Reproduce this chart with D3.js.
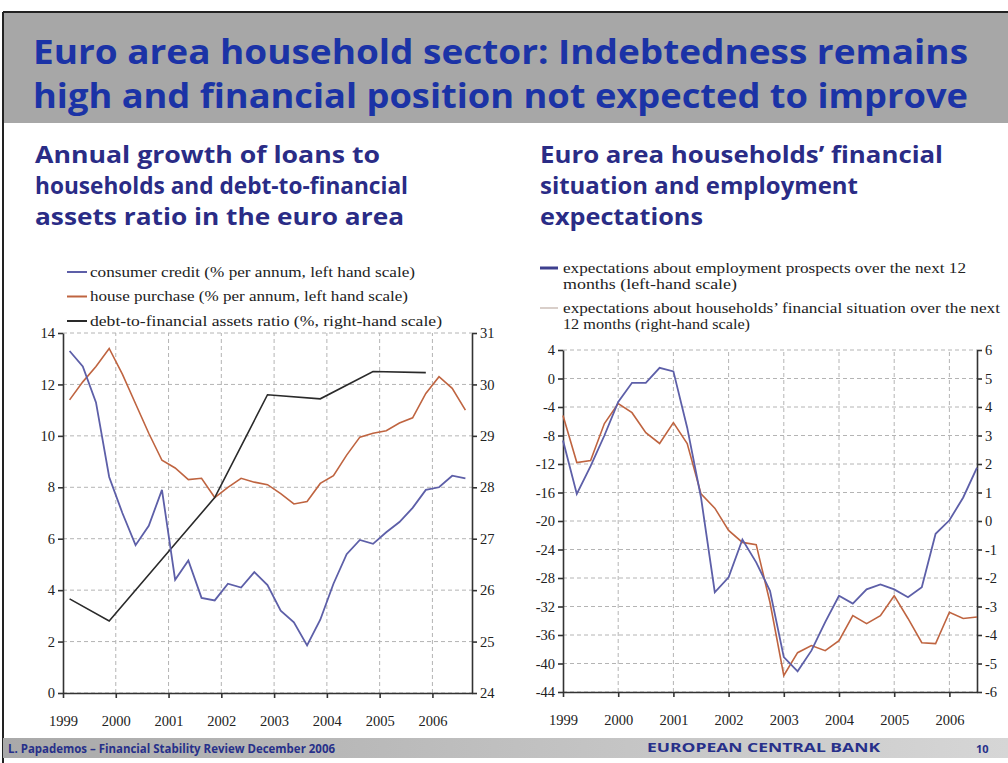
<!DOCTYPE html>
<html><head><meta charset="utf-8">
<script src="https://cdn.jsdelivr.net/npm/d3@7"></script>
<style>
html,body{margin:0;padding:0;background:#fff;}
svg{display:block;}
</style></head>
<body>
<svg id="c" width="1008" height="763"></svg>
<script>
// ---------- DATA ----------
const titleLines = ["Euro area household sector: Indebtedness remains",
                    "high and financial position not expected to improve"];
const leftSubtitle = ["Annual growth of loans to", "households and debt-to-financial", "assets ratio in the euro area"];
const rightSubtitle = ["Euro area households\u2019 financial", "situation and employment", "expectations"];
const yearLabels = ["1999","2000","2001","2002","2003","2004","2005","2006"];

// Left chart: quarterly, 1999Q1 .. 2006Q3
const loansStartYear = 1999;
const consumerCredit = [13.3,12.7,11.3,8.4, 7.0,5.75,6.5,7.9, 4.4,5.15,3.7,3.6, 4.25,4.1,4.7,4.2,
                        3.2,2.75,1.85,2.85, 4.25,5.4,5.95,5.8, 6.25,6.65,7.2,7.9, 8.0,8.45,8.35];
const housePurchase = [11.4,12.1,12.7,13.4, 12.4,11.25,10.1,9.05, 8.75,8.3,8.35,7.6, 8.0,8.35,8.2,8.1,
                       7.75,7.35,7.45,8.15, 8.45,9.25,9.95,10.1, 10.2,10.5,10.7,11.65, 12.3,11.85,11.0];
const debtDates = [1999.125,1999.875,2000.875,2001.875,2002.875,2003.875,2004.875,2005.875];
const debtRatio = [25.83,25.4,26.6,27.8,29.8,29.72,30.25,30.23];
const leftTicksL = [0,2,4,6,8,10,12,14];
const leftTicksR = [24,25,26,27,28,29,30,31];
const leftLegend = ["consumer credit (% per annum, left hand scale)",
                    "house purchase (% per annum, left hand scale)",
                    "debt-to-financial assets ratio (%, right-hand scale)"];

// Right chart: quarterly, 1999Q1 .. 2006Q3
const expStartYear = 1999;
const employment = [-8.7,-16.2,-12.3,-8.0, -3.3,-0.6,-0.6,1.5, 1.0,-6.9,-16.7,-30.0, -27.9,-22.6,-25.8,-29.8,
                    -39.1,-41.1,-38.2,-34.2, -30.5,-31.6,-29.6,-28.9, -29.6,-30.7,-29.3,-21.8, -19.9,-16.7,-12.5];
const financial = [3.7,2.05,2.12,3.42, 4.12,3.8,3.1,2.72, 3.45,2.72,0.95,0.45, -0.33,-0.75,-0.83,-2.86,
                   -5.42,-4.62,-4.37,-4.55, -4.2,-3.32,-3.6,-3.32, -2.62,-3.42,-4.27,-4.3, -3.2,-3.42,-3.37];
const rightTicksL = [4,0,-4,-8,-12,-16,-20,-24,-28,-32,-36,-40,-44];
const rightTicksR = [6,5,4,3,2,1,0,-1,-2,-3,-4,-5,-6];
const rightLegend = [["expectations about employment prospects over the next 12","months (left-hand scale)"],
                     ["expectations about households\u2019 financial situation over the next","12 months (right-hand scale)"]];
const footerLeft = "L. Papademos \u2013 Financial Stability Review December 2006";
const footerMid = "EUROPEAN CENTRAL BANK";
const footerPage = "10";

// ---------- STYLE ----------
const BLUE = "#5d5fa8", RED = "#bf6440", BLACK = "#2a2a2a";
const GRID = "#b4b4b4";
const SERIF = "'Liberation Serif','DejaVu Serif',serif";
const SANS = "'Open Sans','Noto Sans',sans-serif";

const svg = d3.select("#c");

// frame & header bar
svg.append("rect").attr("x",3).attr("y",12).attr("width",1005).attr("height",111).attr("fill","#a7a7a7");
svg.append("line").attr("x1",3).attr("x2",1008).attr("y1",12).attr("y2",12).attr("stroke","#222").attr("stroke-width",2);
svg.append("line").attr("x1",3).attr("x2",3).attr("y1",12).attr("y2",763).attr("stroke","#222").attr("stroke-width",2);

const titleBase = [64, 108];
titleLines.forEach((t,i)=>{
  svg.append("text").attr("x",33).attr("y",titleBase[i]).text(t)
    .attr("font-family",SANS).attr("font-weight","bold").attr("font-size",34)
    .attr("fill","#1b33a6").attr("textLength",935).attr("lengthAdjust","spacingAndGlyphs");
});

function subtitle(lines, x, widths){
  lines.forEach((t,i)=>{
    svg.append("text").attr("x",x).attr("y",163+i*31).text(t)
      .attr("font-family",SANS).attr("font-weight","bold").attr("font-size",23)
      .attr("fill","#2a2c86").attr("textLength",widths[i]).attr("lengthAdjust","spacingAndGlyphs");
  });
}
subtitle(leftSubtitle, 35, [345,373,369]);
subtitle(rightSubtitle, 540, [403,318,163]);

// footer
const fg = svg.append("defs").append("linearGradient").attr("id","fg");
fg.append("stop").attr("offset","0%").attr("stop-color","#a9a9a9");
fg.append("stop").attr("offset","100%").attr("stop-color","#d6d6d6");
svg.append("rect").attr("x",3).attr("y",738).attr("width",1005).attr("height",20).attr("fill","url(#fg)");
svg.append("text").attr("x",8).attr("y",753).text(footerLeft)
  .attr("font-family",SANS).attr("font-weight","bold").attr("font-size",13).attr("fill","#27308a")
  .attr("textLength",327).attr("lengthAdjust","spacingAndGlyphs");
svg.append("text").attr("x",647).attr("y",752).text(footerMid)
  .attr("font-family",SANS).attr("font-weight","bold").attr("font-size",11.5).attr("fill","#27308a")
  .attr("textLength",233).attr("lengthAdjust","spacingAndGlyphs");
svg.append("text").attr("x",976).attr("y",753).text(footerPage)
  .attr("font-family",SANS).attr("font-weight","bold").attr("font-size",11).attr("fill","#27308a");

// ---------- chart helper ----------
function drawFrame(g, x, yL, yR, ticksL, ticksR, xYears){
  const [x0,x1] = x.range(); const [yb,yt] = yL.range();
  // grid
  ticksL.forEach(v=>{
    g.append("line").attr("x1",x0).attr("x2",x1).attr("y1",yL(v)).attr("y2",yL(v))
      .attr("stroke",GRID).attr("stroke-width",1).attr("stroke-dasharray","4,3");
  });
  xYears.forEach(yr=>{
    if (yr===xYears[0]) return;
    g.append("line").attr("x1",x(yr)).attr("x2",x(yr)).attr("y1",yb).attr("y2",yt)
      .attr("stroke",GRID).attr("stroke-width",1).attr("stroke-dasharray","4,3");
  });
  // axes
  const fmt = d=>String(d);
  const axL = d3.axisLeft(yL).tickValues(ticksL).tickSize(5).tickSizeOuter(0).tickFormat(fmt);
  const axR = d3.axisRight(yR).tickValues(ticksR).tickSize(5).tickSizeOuter(0).tickFormat(fmt);
  const axB = d3.axisBottom(x).tickValues(xYears).tickSize(5).tickSizeOuter(0).tickFormat(fmt);
  const gl = g.append("g").attr("transform",`translate(${x0},0)`).call(axL);
  const gr = g.append("g").attr("transform",`translate(${x1},0)`).call(axR);
  const gb = g.append("g").attr("transform",`translate(0,${yb})`).call(axB);
  [gl,gr,gb].forEach(a=>{
    a.selectAll("path,line").attr("stroke","#333").attr("stroke-width",1.6);
    a.selectAll("text").attr("font-family",SERIF).attr("font-size",14.5).attr("fill","#222");
  });
  gb.selectAll("text").attr("dy","1.7em");
  return {gl,gr,gb};
}

// ---------- LEFT CHART ----------
const L = svg.append("g");
const xL = d3.scaleLinear().domain([1999, 2006.75]).range([63, 472]);
const yLL = d3.scaleLinear().domain([0,14]).range([693, 333]);
const yLR = d3.scaleLinear().domain([24,31]).range([693, 333]);
const years = yearLabels.map(Number);
drawFrame(L, xL, yLL, yLR, leftTicksL, leftTicksR, years);

const qt = (start,i)=> start + (i+0.5)/4;
const lineL = d3.line().x(d=>xL(d[0])).y(d=>yLL(d[1]));
const lineLR = d3.line().x(d=>xL(d[0])).y(d=>yLR(d[1]));
L.append("path").attr("d", lineL(housePurchase.map((v,i)=>[qt(loansStartYear,i),v])))
  .attr("fill","none").attr("stroke",RED).attr("stroke-width",1.6);
L.append("path").attr("d", lineLR(debtRatio.map((v,i)=>[debtDates[i],v])))
  .attr("fill","none").attr("stroke",BLACK).attr("stroke-width",1.6);
L.append("path").attr("d", lineL(consumerCredit.map((v,i)=>[qt(loansStartYear,i),v])))
  .attr("fill","none").attr("stroke",BLUE).attr("stroke-width",1.8);

// legend left
svg.append("rect").attr("x",64).attr("y",258).attr("width",370).attr("height",74).attr("fill","#fff");
const legColsL = [BLUE, RED, BLACK];
const legWL = [325, 318, 352];
leftLegend.forEach((t,i)=>{
  const y = 272 + i*24.5;
  svg.append("line").attr("x1",67).attr("x2",87).attr("y1",y).attr("y2",y)
    .attr("stroke",legColsL[i]).attr("stroke-width",2);
  svg.append("text").attr("x",90).attr("y",y+4.5).text(t)
    .attr("font-family",SERIF).attr("font-size",14).attr("fill","#222")
    .attr("textLength",legWL[i]).attr("lengthAdjust","spacingAndGlyphs");
});

// ---------- RIGHT CHART ----------
const R = svg.append("g");
const xR = d3.scaleLinear().domain([1999, 2006.5]).range([563, 977]);
const yRL = d3.scaleLinear().domain([-44,4]).range([692, 350]);
const yRR = d3.scaleLinear().domain([-6,6]).range([692, 350]);
drawFrame(R, xR, yRL, yRR, rightTicksL, rightTicksR, years);
const qs = (start,i)=> start + i/4;
const lineR = d3.line().x(d=>xR(d[0])).y(d=>yRL(d[1]));
const lineRR = d3.line().x(d=>xR(d[0])).y(d=>yRR(d[1]));
R.append("path").attr("d", lineRR(financial.map((v,i)=>[qs(expStartYear,i),v])))
  .attr("fill","none").attr("stroke",RED).attr("stroke-width",1.6);
R.append("path").attr("d", lineR(employment.map((v,i)=>[qs(expStartYear,i),v])))
  .attr("fill","none").attr("stroke",BLUE).attr("stroke-width",1.8);

// legend right
const legColsR = ["#3d3f8e", "#cdbfb8"];
const legWR = [[403,174],[437,187]];
rightLegend.forEach((lines,i)=>{
  const y = 268 + i*40;
  svg.append("line").attr("x1",540).attr("x2",558).attr("y1",y).attr("y2",y)
    .attr("stroke",legColsR[i]).attr("stroke-width",i===0?3:1.5);
  lines.forEach((t,j)=>{
    svg.append("text").attr("x",563).attr("y",y+4.5+j*16).text(t)
      .attr("font-family",SERIF).attr("font-size",14).attr("fill","#222")
      .attr("textLength",legWR[i][j]).attr("lengthAdjust","spacingAndGlyphs");
  });
});
</script>
</body></html>
